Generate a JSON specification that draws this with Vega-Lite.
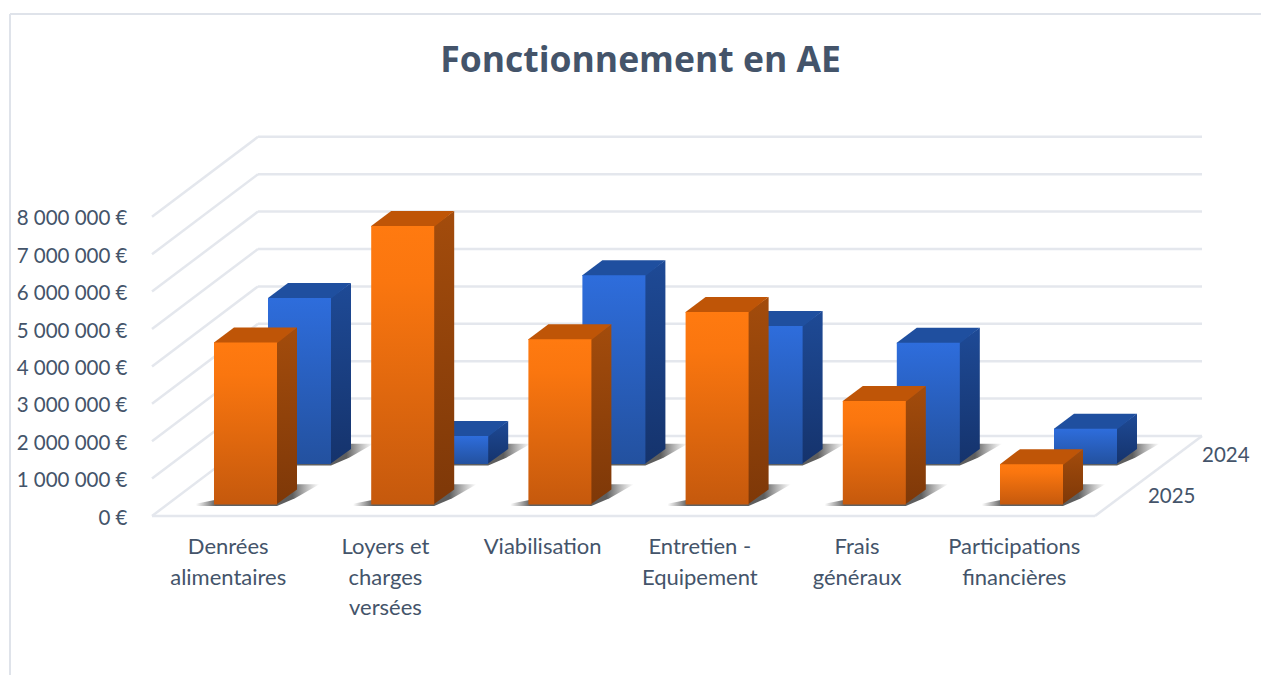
{
"$schema":"https://vega.github.io/schema/vega-lite/v6.json",
"width":1261,"height":675,"padding":0,"autosize":{"type":"none"},"background":"#ffffff",
"config":{"view":{"stroke":null},"font":"Lato"},
"title":{"text":"Fonctionnement en AE","font":"Open Sans","fontSize":35.5,"fontWeight":"bold","color":"#44546A","anchor":"middle","dx":10,"dy":79,"offset":0},
"data":{"values":[
{"category":"Denrées alimentaires","year":2025,"value":4330000},
{"category":"Loyers et charges versées","year":2025,"value":7450000},
{"category":"Viabilisation","year":2025,"value":4420000},
{"category":"Entretien - Equipement","year":2025,"value":5150000},
{"category":"Frais généraux","year":2025,"value":2770000},
{"category":"Participations financières","year":2025,"value":1080000},
{"category":"Denrées alimentaires","year":2024,"value":4440000},
{"category":"Loyers et charges versées","year":2024,"value":750000},
{"category":"Viabilisation","year":2024,"value":5050000},
{"category":"Entretien - Equipement","year":2024,"value":3690000},
{"category":"Frais généraux","year":2024,"value":3240000},
{"category":"Participations financières","year":2024,"value":940000}
]},
"transform":[
{"calculate":"indexof(['Denrées alimentaires','Loyers et charges versées','Viabilisation','Entretien - Equipement','Frais généraux','Participations financières'],datum.category)","as":"i"},
{"calculate":"datum.year==2024?1:0","as":"d"},
{"calculate":"datum.i+datum.d*0.3435","as":"L"},
{"calculate":"datum.L+0.4008","as":"R"},
{"calculate":"307000+datum.d*1083000","as":"base"},
{"calculate":"datum.base+datum.value","as":"top"}
],
"encoding":{
"x":{"field":"x","type":"quantitative","scale":{"domain":[-1.36132,6.66031],"range":[0,1261],"nice":false,"zero":false},"axis":null},
"y":{"field":"y","type":"quantitative","scale":{"domain":[-4251300,13796800],"range":[675,0],"nice":false,"zero":false},
"axis":{"title":null,"values":[0,1000000,2000000,3000000,4000000,5000000,6000000,7000000,8000000],"domain":false,"ticks":false,"grid":false,"offset":-127,"labelPadding":0,"labelOffset":2,"labelFont":"Lato","labelFontSize":20.5,"labelColor":"#44546A","labelExpr":"replace(format(datum.value,','),/,/g,' ')+' €'"}}
},
"layer":[
{"data":{"values":[{"edge":"top"},{"edge":"left"}]},
"transform":[
{"calculate":"-1.2977","as":"x"},
{"calculate":"datum.edge=='top'?6.66:-1.2977","as":"x2"},
{"calculate":"13422460","as":"y"},
{"calculate":"datum.edge=='top'?13422460:-4251300","as":"y2"}],
"mark":{"type":"rule","color":"#DFE3EA","strokeWidth":2},
"encoding":{"x2":{"field":"x2"},"y2":{"field":"y2"}}},
{"data":{"values":[{"v":0},{"v":1000000},{"v":2000000},{"v":3000000},{"v":4000000},{"v":5000000},{"v":6000000},{"v":7000000},{"v":8000000}]},
"transform":[
{"calculate":"0.2799","as":"x"},{"calculate":"6.285","as":"x2"},
{"calculate":"datum.v+2139037","as":"y"},{"calculate":"datum.y","as":"y2"}],
"mark":{"type":"rule","color":"#E4E7ED","strokeWidth":2.5},
"encoding":{"x2":{"field":"x2"},"y2":{"field":"y2"}}},
{"data":{"values":[{"v":0},{"v":1000000},{"v":2000000},{"v":3000000},{"v":4000000},{"v":5000000},{"v":6000000},{"v":7000000},{"v":8000000}]},
"transform":[
{"calculate":"-0.3944","as":"x"},{"calculate":"0.2799","as":"x2"},
{"calculate":"datum.v","as":"y"},{"calculate":"datum.v+2139037","as":"y2"}],
"mark":{"type":"rule","color":"#E4E7ED","strokeWidth":2.5},
"encoding":{"x2":{"field":"x2"},"y2":{"field":"y2"}}},
{"data":{"values":[{"edge":"front"},{"edge":"right"}]},
"transform":[
{"calculate":"datum.edge=='front'?-0.3944:5.6043","as":"x"},{"calculate":"datum.edge=='front'?5.6043:6.285","as":"x2"},
{"calculate":"0","as":"y"},{"calculate":"datum.edge=='front'?0:2139037","as":"y2"}],
"mark":{"type":"rule","color":"#E4E7ED","strokeWidth":2.5},
"encoding":{"x2":{"field":"x2"},"y2":{"field":"y2"}}},

{"transform":[{"filter":"datum.year==2024"},
{"calculate":"[datum.L-0.115,datum.R,datum.R+0.115,datum.R+0.27]","as":"x"},
{"calculate":"[datum.base+20000,datum.base+450000,datum.base+540000,datum.base+540000]","as":"y"},
{"calculate":"[datum.base-40000,datum.base-40000,datum.base+170000,datum.base+540000]","as":"y2"},
{"flatten":["x","y","y2"]}],
"mark":{"type":"area","orient":"vertical","color":{"gradient":"linear","x1":0,"y1":0,"x2":1,"y2":0,"stops":[{"offset":0,"color":"rgba(90,90,90,0)"},{"offset":0.16,"color":"rgba(80,80,80,0.9)"},{"offset":0.78,"color":"rgba(85,85,85,0.95)"},{"offset":1,"color":"rgba(120,120,120,0)"}]}},
"encoding":{"y2":{"field":"y2"},"detail":{"field":"category"}}},
{"transform":[{"filter":"datum.year==2024"},
{"calculate":"[datum.R-0.005,datum.R+0.1272]","as":"x"},
{"calculate":"[datum.top,datum.top+401070]","as":"y"},
{"calculate":"[datum.base,datum.base+401070]","as":"y2"},
{"flatten":["x","y","y2"]}],
"mark":{"type":"area","orient":"vertical","color":{"gradient":"linear","x1":0,"y1":0,"x2":0,"y2":1,"stops":[{"offset":0,"color":"#1E4A96"},{"offset":1,"color":"#15336C"}]}},
"encoding":{"y2":{"field":"y2"},"detail":{"field":"category"}}},
{"transform":[{"filter":"datum.year==2024"},
{"calculate":"[datum.L,datum.L+0.1272,datum.R,datum.R+0.1272]","as":"x"},
{"calculate":"[datum.top,datum.top+401070,datum.top+401070,datum.top+401070]","as":"y"},
{"calculate":"[datum.top-20000,datum.top-20000,datum.top-20000,datum.top+401070]","as":"y2"},
{"flatten":["x","y","y2"]}],
"mark":{"type":"area","orient":"vertical","color":"#1F4F9F"},
"encoding":{"y2":{"field":"y2"},"detail":{"field":"category"}}},
{"transform":[{"filter":"datum.year==2024"},
{"calculate":"datum.L","as":"x"},{"calculate":"datum.R","as":"x2"},
{"calculate":"datum.top","as":"y"},{"calculate":"datum.base","as":"y2"}],
"mark":{"type":"rect","color":{"gradient":"linear","x1":0,"y1":0,"x2":0,"y2":1,"stops":[{"offset":0,"color":"#2E6DDC"},{"offset":1,"color":"#23519F"}]}},
"encoding":{"x2":{"field":"x2"},"y2":{"field":"y2"}}},

{"transform":[{"filter":"datum.year==2025"},
{"calculate":"[datum.L-0.115,datum.R,datum.R+0.115,datum.R+0.27]","as":"x"},
{"calculate":"[datum.base+20000,datum.base+450000,datum.base+540000,datum.base+540000]","as":"y"},
{"calculate":"[datum.base-40000,datum.base-40000,datum.base+170000,datum.base+540000]","as":"y2"},
{"flatten":["x","y","y2"]}],
"mark":{"type":"area","orient":"vertical","color":{"gradient":"linear","x1":0,"y1":0,"x2":1,"y2":0,"stops":[{"offset":0,"color":"rgba(90,90,90,0)"},{"offset":0.16,"color":"rgba(80,80,80,0.9)"},{"offset":0.78,"color":"rgba(85,85,85,0.95)"},{"offset":1,"color":"rgba(120,120,120,0)"}]}},
"encoding":{"y2":{"field":"y2"},"detail":{"field":"category"}}},
{"transform":[{"filter":"datum.year==2025"},
{"calculate":"[datum.R-0.005,datum.R+0.1272]","as":"x"},
{"calculate":"[datum.top,datum.top+401070]","as":"y"},
{"calculate":"[datum.base,datum.base+401070]","as":"y2"},
{"flatten":["x","y","y2"]}],
"mark":{"type":"area","orient":"vertical","color":{"gradient":"linear","x1":0,"y1":0,"x2":0,"y2":1,"stops":[{"offset":0,"color":"#A34C0C"},{"offset":1,"color":"#7E3808"}]}},
"encoding":{"y2":{"field":"y2"},"detail":{"field":"category"}}},
{"transform":[{"filter":"datum.year==2025"},
{"calculate":"[datum.L,datum.L+0.1272,datum.R,datum.R+0.1272]","as":"x"},
{"calculate":"[datum.top,datum.top+401070,datum.top+401070,datum.top+401070]","as":"y"},
{"calculate":"[datum.top-20000,datum.top-20000,datum.top-20000,datum.top+401070]","as":"y2"},
{"flatten":["x","y","y2"]}],
"mark":{"type":"area","orient":"vertical","color":"#BF5507"},
"encoding":{"y2":{"field":"y2"},"detail":{"field":"category"}}},
{"transform":[{"filter":"datum.year==2025"},
{"calculate":"datum.L","as":"x"},{"calculate":"datum.R","as":"x2"},
{"calculate":"datum.top","as":"y"},{"calculate":"datum.base","as":"y2"}],
"mark":{"type":"rect","color":{"gradient":"linear","x1":0,"y1":0,"x2":0,"y2":1,"stops":[{"offset":0,"color":"#FF7A10"},{"offset":0.2,"color":"#FA760F"},{"offset":1,"color":"#C5590D"}]}},
"encoding":{"x2":{"field":"x2"},"y2":{"field":"y2"}}},

{"data":{"values":[
{"label":"Denrées|alimentaires","i":0},{"label":"Loyers et|charges|versées","i":1},{"label":"Viabilisation","i":2},{"label":"Entretien -|Equipement","i":3},{"label":"Frais|généraux","i":4},{"label":"Participations|financières","i":5}]},
"transform":[{"calculate":"datum.i+0.0905","as":"x"},{"calculate":"-570000","as":"y"}],
"mark":{"type":"text","font":"Lato","fontSize":22,"color":"#44546A","align":"center","baseline":"top","lineBreak":"|","lineHeight":30.5},
"encoding":{"text":{"field":"label"}}},
{"data":{"values":[{"year":"2025"},{"year":"2024"}]},
"transform":[{"calculate":"datum.year=='2024'?6.285:5.941","as":"x"},{"calculate":"datum.year=='2024'?1604000:508000","as":"y"}],
"mark":{"type":"text","font":"Lato","fontSize":20.5,"color":"#44546A","align":"left","baseline":"middle"},
"encoding":{"text":{"field":"year"}}}
]
}
